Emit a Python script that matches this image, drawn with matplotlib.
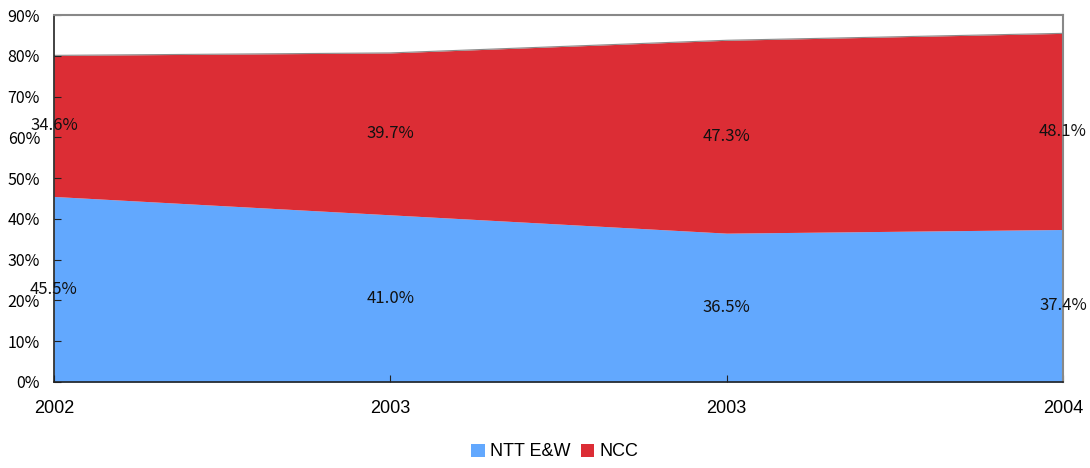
import matplotlib
matplotlib.use("Agg")
import matplotlib.pyplot as plt
import numpy as np

plt.rcParams['font.family'] = ['Noto Sans CJK JP', 'DejaVu Sans']

years = ["2002", "2003", "2003", "2004"]
ntt = [45.5, 41.0, 36.5, 37.4]
ncc = [34.6, 39.7, 47.3, 48.1]
series_names = ["NTT E&W", "NCC"]
colors = ["#62A8FE", "#DC2D35"]

fig = plt.figure(figsize=(10.9, 4.68), dpi=100)
ax = fig.add_axes([54 / 1090, 1 - 382 / 468, (1063 - 54) / 1090, (382 - 15) / 468])

x = np.arange(len(years))
ntt_a = np.array(ntt)
ncc_a = np.array(ncc)
ax.fill_between(x, 0, ntt_a, color=colors[0], linewidth=0, label=series_names[0])
ax.fill_between(x, ntt_a, ntt_a + ncc_a, color=colors[1], linewidth=0, label=series_names[1])
ax.plot(x, ntt_a + ncc_a, color="#8a8a8a", linewidth=0.8)

for i in x:
    ax.text(i, ntt_a[i] / 2, f"{ntt_a[i]:.1f}%", ha="center", va="center", fontsize=12, color="#111111")
    ax.text(i, ntt_a[i] + ncc_a[i] / 2, f"{ncc_a[i]:.1f}%", ha="center", va="center", fontsize=12, color="#111111")

ax.set_xlim(0, len(years) - 1)
ax.set_ylim(0, 90)
ax.set_yticks(np.arange(0, 91, 10))
ax.set_yticklabels([f"{v}%" for v in range(0, 91, 10)], fontsize=11.5)
ax.set_xticks(x)
ax.set_xticklabels(years, fontsize=13, family=["Liberation Sans"])
ax.tick_params(axis="both", direction="in", length=5, color="#222222")
ax.tick_params(axis="y", pad=10)
ax.tick_params(axis="x", pad=13)

for side in ["top", "right"]:
    ax.spines[side].set_color("#888888")
    ax.spines[side].set_linewidth(1.5)
for side in ["left", "bottom"]:
    ax.spines[side].set_color("#222222")
    ax.spines[side].set_linewidth(1.2)
ax.set_zorder(1)

handles, labels = ax.get_legend_handles_labels()
fig.legend(handles, labels, loc="center", bbox_to_anchor=(555 / 1090, 1 - 452 / 468), ncol=2,
           frameon=False, prop={"family": "Liberation Sans", "size": 13},
           handlelength=0.75, handleheight=0.75, handletextpad=0.3, columnspacing=0.55)

fig.savefig("out.png", dpi=100)
